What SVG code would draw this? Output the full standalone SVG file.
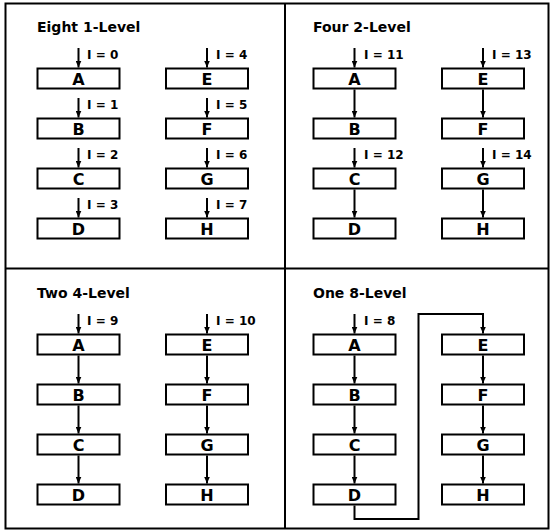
<svg xmlns="http://www.w3.org/2000/svg" width="552" height="532" viewBox="0 0 552 532">
<defs>
<marker id="ah" markerUnits="userSpaceOnUse" markerWidth="7" markerHeight="6" refX="7" refY="3" orient="auto" viewBox="0 0 7 6">
<path d="M0,0 L7,3 L0,6 Z" fill="#000"/>
</marker>
<style>
.frame{fill:none;stroke:#000;stroke-width:2}
.box{fill:#fff;stroke:#000;stroke-width:2}
.lt{font-family:"DejaVu Sans","Liberation Sans",sans-serif;font-weight:bold;font-size:16px;text-anchor:middle;fill:#000}
.ttl{font-family:"DejaVu Sans","Liberation Sans",sans-serif;font-weight:bold;font-size:14px;fill:#000}
.lbl{font-family:"DejaVu Sans","Liberation Sans",sans-serif;font-weight:bold;font-size:12px;fill:#000}
.cn{fill:none;stroke:#000;stroke-width:2}
.ar{marker-end:url(#ah)}
</style>
</defs>
<rect width="552" height="532" fill="#fff"/>
<g id="frame">
<rect class="frame" x="5.5" y="3.5" width="543" height="525"/>
<line class="frame" x1="285" y1="3.5" x2="285" y2="528.5"/>
<line class="frame" x1="5.5" y1="268.5" x2="548.5" y2="268.5"/>
</g>
<g id="titles">
<text class="ttl" x="37" y="32">Eight 1-Level</text>
<text class="ttl" x="313" y="32">Four 2-Level</text>
<text class="ttl" x="37" y="298">Two 4-Level</text>
<text class="ttl" x="313" y="298">One 8-Level</text>
</g>
<g id="q1-A"><rect class="box" x="37.5" y="68.5" width="82" height="20"/><text class="lt" x="78.5" y="85">A</text></g>
<g id="q1-B"><rect class="box" x="37.5" y="118.5" width="82" height="20"/><text class="lt" x="78.5" y="135">B</text></g>
<g id="q1-C"><rect class="box" x="37.5" y="168.5" width="82" height="20"/><text class="lt" x="78.5" y="185">C</text></g>
<g id="q1-D"><rect class="box" x="37.5" y="218.5" width="82" height="20"/><text class="lt" x="78.5" y="235">D</text></g>
<g id="q1-E"><rect class="box" x="166" y="68.5" width="82" height="20"/><text class="lt" x="207" y="85">E</text></g>
<g id="q1-F"><rect class="box" x="166" y="118.5" width="82" height="20"/><text class="lt" x="207" y="135">F</text></g>
<g id="q1-G"><rect class="box" x="166" y="168.5" width="82" height="20"/><text class="lt" x="207" y="185">G</text></g>
<g id="q1-H"><rect class="box" x="166" y="218.5" width="82" height="20"/><text class="lt" x="207" y="235">H</text></g>
<g id="q2-A"><rect class="box" x="313.5" y="68.5" width="82" height="20"/><text class="lt" x="354.5" y="85">A</text></g>
<g id="q2-B"><rect class="box" x="313.5" y="118.5" width="82" height="20"/><text class="lt" x="354.5" y="135">B</text></g>
<g id="q2-C"><rect class="box" x="313.5" y="168.5" width="82" height="20"/><text class="lt" x="354.5" y="185">C</text></g>
<g id="q2-D"><rect class="box" x="313.5" y="218.5" width="82" height="20"/><text class="lt" x="354.5" y="235">D</text></g>
<g id="q2-E"><rect class="box" x="442" y="68.5" width="82" height="20"/><text class="lt" x="483" y="85">E</text></g>
<g id="q2-F"><rect class="box" x="442" y="118.5" width="82" height="20"/><text class="lt" x="483" y="135">F</text></g>
<g id="q2-G"><rect class="box" x="442" y="168.5" width="82" height="20"/><text class="lt" x="483" y="185">G</text></g>
<g id="q2-H"><rect class="box" x="442" y="218.5" width="82" height="20"/><text class="lt" x="483" y="235">H</text></g>
<g id="q3-A"><rect class="box" x="37.5" y="334.5" width="82" height="20"/><text class="lt" x="78.5" y="351">A</text></g>
<g id="q3-B"><rect class="box" x="37.5" y="384.5" width="82" height="20"/><text class="lt" x="78.5" y="401">B</text></g>
<g id="q3-C"><rect class="box" x="37.5" y="434.5" width="82" height="20"/><text class="lt" x="78.5" y="451">C</text></g>
<g id="q3-D"><rect class="box" x="37.5" y="484.5" width="82" height="20"/><text class="lt" x="78.5" y="501">D</text></g>
<g id="q3-E"><rect class="box" x="166" y="334.5" width="82" height="20"/><text class="lt" x="207" y="351">E</text></g>
<g id="q3-F"><rect class="box" x="166" y="384.5" width="82" height="20"/><text class="lt" x="207" y="401">F</text></g>
<g id="q3-G"><rect class="box" x="166" y="434.5" width="82" height="20"/><text class="lt" x="207" y="451">G</text></g>
<g id="q3-H"><rect class="box" x="166" y="484.5" width="82" height="20"/><text class="lt" x="207" y="501">H</text></g>
<g id="q4-A"><rect class="box" x="313.5" y="334.5" width="82" height="20"/><text class="lt" x="354.5" y="351">A</text></g>
<g id="q4-B"><rect class="box" x="313.5" y="384.5" width="82" height="20"/><text class="lt" x="354.5" y="401">B</text></g>
<g id="q4-C"><rect class="box" x="313.5" y="434.5" width="82" height="20"/><text class="lt" x="354.5" y="451">C</text></g>
<g id="q4-D"><rect class="box" x="313.5" y="484.5" width="82" height="20"/><text class="lt" x="354.5" y="501">D</text></g>
<g id="q4-E"><rect class="box" x="442" y="334.5" width="82" height="20"/><text class="lt" x="483" y="351">E</text></g>
<g id="q4-F"><rect class="box" x="442" y="384.5" width="82" height="20"/><text class="lt" x="483" y="401">F</text></g>
<g id="q4-G"><rect class="box" x="442" y="434.5" width="82" height="20"/><text class="lt" x="483" y="451">G</text></g>
<g id="q4-H"><rect class="box" x="442" y="484.5" width="82" height="20"/><text class="lt" x="483" y="501">H</text></g>
<g id="connectors">
<line class="cn ar" x1="78.5" y1="48" x2="78.5" y2="67.5"/>
<line class="cn ar" x1="78.5" y1="98" x2="78.5" y2="117.5"/>
<line class="cn ar" x1="78.5" y1="148" x2="78.5" y2="167.5"/>
<line class="cn ar" x1="78.5" y1="198" x2="78.5" y2="217.5"/>
<line class="cn ar" x1="207" y1="48" x2="207" y2="67.5"/>
<line class="cn ar" x1="207" y1="98" x2="207" y2="117.5"/>
<line class="cn ar" x1="207" y1="148" x2="207" y2="167.5"/>
<line class="cn ar" x1="207" y1="198" x2="207" y2="217.5"/>
<line class="cn ar" x1="354.5" y1="48" x2="354.5" y2="67.5"/>
<line class="cn ar" x1="354.5" y1="89.5" x2="354.5" y2="117.5"/>
<line class="cn ar" x1="354.5" y1="148" x2="354.5" y2="167.5"/>
<line class="cn ar" x1="354.5" y1="189.5" x2="354.5" y2="217.5"/>
<line class="cn ar" x1="483" y1="48" x2="483" y2="67.5"/>
<line class="cn ar" x1="483" y1="89.5" x2="483" y2="117.5"/>
<line class="cn ar" x1="483" y1="148" x2="483" y2="167.5"/>
<line class="cn ar" x1="483" y1="189.5" x2="483" y2="217.5"/>
<line class="cn ar" x1="78.5" y1="314" x2="78.5" y2="333.5"/>
<line class="cn ar" x1="78.5" y1="355.5" x2="78.5" y2="383.5"/>
<line class="cn ar" x1="78.5" y1="405.5" x2="78.5" y2="433.5"/>
<line class="cn ar" x1="78.5" y1="455.5" x2="78.5" y2="483.5"/>
<line class="cn ar" x1="207" y1="314" x2="207" y2="333.5"/>
<line class="cn ar" x1="207" y1="355.5" x2="207" y2="383.5"/>
<line class="cn ar" x1="207" y1="405.5" x2="207" y2="433.5"/>
<line class="cn ar" x1="207" y1="455.5" x2="207" y2="483.5"/>
<line class="cn ar" x1="354.5" y1="314" x2="354.5" y2="333.5"/>
<line class="cn ar" x1="354.5" y1="355.5" x2="354.5" y2="383.5"/>
<line class="cn ar" x1="354.5" y1="405.5" x2="354.5" y2="433.5"/>
<line class="cn ar" x1="354.5" y1="455.5" x2="354.5" y2="483.5"/>
<path class="cn ar" d="M354.5,505.5 V519 H418.5 V314 H483 V333.5"/>
<line class="cn ar" x1="483" y1="355.5" x2="483" y2="383.5"/>
<line class="cn ar" x1="483" y1="405.5" x2="483" y2="433.5"/>
<line class="cn ar" x1="483" y1="455.5" x2="483" y2="483.5"/>
</g>
<g id="labels">
<text class="lbl" x="87" y="59">I = 0</text>
<text class="lbl" x="87" y="109">I = 1</text>
<text class="lbl" x="87" y="159">I = 2</text>
<text class="lbl" x="87" y="209">I = 3</text>
<text class="lbl" x="216" y="59">I = 4</text>
<text class="lbl" x="216" y="109">I = 5</text>
<text class="lbl" x="216" y="159">I = 6</text>
<text class="lbl" x="216" y="209">I = 7</text>
<text class="lbl" x="364" y="59">I = 11</text>
<text class="lbl" x="364" y="159">I = 12</text>
<text class="lbl" x="492" y="59">I = 13</text>
<text class="lbl" x="492" y="159">I = 14</text>
<text class="lbl" x="87" y="325">I = 9</text>
<text class="lbl" x="216" y="325">I = 10</text>
<text class="lbl" x="364" y="325">I = 8</text>
</g>
</svg>
